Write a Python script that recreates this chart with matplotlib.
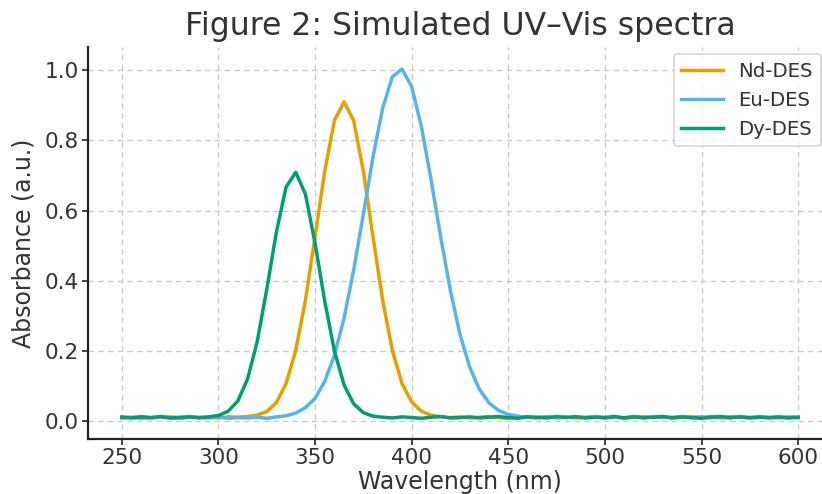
import numpy as np
import matplotlib
matplotlib.use("Agg")
import matplotlib.pyplot as plt

# ---- data (5 nm steps) ----
wavelength = list(range(250, 601, 5))

nd_des = [0.012, 0.010, 0.013, 0.009, 0.011, 0.012, 0.009, 0.012, 0.010, 0.011,
          0.009, 0.012, 0.011, 0.013, 0.017, 0.027, 0.053, 0.107, 0.201, 0.344,
          0.525, 0.712, 0.856, 0.910, 0.856, 0.712, 0.525, 0.344, 0.201, 0.107,
          0.055, 0.028, 0.017, 0.012, 0.010,
          0.012, 0.009, 0.011, 0.013, 0.010, 0.008, 0.012, 0.011, 0.009, 0.013,
          0.010, 0.012, 0.009, 0.011, 0.013, 0.010, 0.012, 0.008, 0.011, 0.012,
          0.010, 0.013, 0.009, 0.011, 0.012, 0.010, 0.013, 0.009, 0.012, 0.011,
          0.010, 0.013, 0.009, 0.012, 0.010, 0.011]

eu_des = [0.009, 0.011, 0.008, 0.010, 0.012, 0.009, 0.008, 0.011, 0.010, 0.009,
          0.012, 0.008, 0.010, 0.009, 0.011, 0.008, 0.012,
          0.015, 0.023, 0.038, 0.065, 0.113, 0.187, 0.293, 0.431, 0.590, 0.753,
          0.892, 0.981, 1.003, 0.953, 0.840, 0.689, 0.525, 0.373, 0.247, 0.154,
          0.091, 0.052, 0.030, 0.019, 0.014, 0.011,
          0.010, 0.012, 0.009, 0.011, 0.013, 0.010, 0.012, 0.009, 0.011, 0.010,
          0.013, 0.009, 0.012, 0.010, 0.011, 0.013, 0.009, 0.012, 0.010, 0.011,
          0.009, 0.013, 0.010, 0.012, 0.011, 0.009, 0.012, 0.010]

dy_des = [0.011, 0.009, 0.012, 0.010, 0.013, 0.009, 0.011, 0.012, 0.010,
          0.012, 0.016, 0.028, 0.057, 0.119, 0.225, 0.375, 0.539, 0.667, 0.709,
          0.647, 0.507, 0.342, 0.200, 0.103, 0.049, 0.024, 0.014, 0.011,
          0.009, 0.012, 0.010, 0.008, 0.011, 0.013, 0.009, 0.010, 0.012, 0.009,
          0.011, 0.013, 0.010, 0.008, 0.012, 0.011, 0.009, 0.013, 0.010, 0.012,
          0.009, 0.011, 0.010, 0.013, 0.009, 0.012, 0.010, 0.011, 0.013, 0.009,
          0.012, 0.010, 0.008, 0.011, 0.013, 0.010, 0.012, 0.009, 0.011, 0.010,
          0.012, 0.009, 0.011]

series_names = ["Nd-DES", "Eu-DES", "Dy-DES"]
series_values = [nd_des, eu_des, dy_des]
series_colors = ["#E69F00", "#56B4E9", "#009E73"]

x_ticks = [250, 300, 350, 400, 450, 500, 550, 600]
y_ticks = [0.0, 0.2, 0.4, 0.6, 0.8, 1.0]

# ---- figure ----
plt.rcParams['font.family'] = ['DejaVu Sans']
text_color = "#333333"

fig = plt.figure(figsize=(8.22, 4.94), dpi=100)
ax = fig.add_axes([88 / 822, (494 - 439) / 494, (832 - 88) / 822, (439 - 47) / 494])

for name, vals, col in zip(series_names, series_values, series_colors):
    ax.plot(wavelength, vals, color=col, lw=2.5, label=name)

ax.set_xlim(232.5, 617.5)
ax.set_ylim(-0.051, 1.066)
ax.set_xticks(x_ticks)
ax.set_yticks(y_ticks)
ax.set_yticklabels([f"{v:.1f}" for v in y_ticks])

ax.grid(True, linestyle=(0, (4, 3)), color="#cccccc", lw=1.0)
ax.set_axisbelow(True)

for s in ["top", "right"]:
    ax.spines[s].set_visible(False)
for s in ["left", "bottom"]:
    ax.spines[s].set_linewidth(1.6)
    ax.spines[s].set_color("#222222")

ax.tick_params(axis="both", labelsize=15.6, colors="#222222", labelcolor=text_color,
               length=4, width=1.2, pad=2.5)

ax.set_xlabel("Wavelength (nm)", fontsize=17, color=text_color, labelpad=1.5)
ax.set_ylabel("Absorbance (a.u.)", fontsize=17, color=text_color, labelpad=7)
ax.set_title("Figure 2: Simulated UV\u2013Vis spectra", fontsize=22.7, color=text_color, pad=9)

leg = ax.legend(loc="upper right", bbox_to_anchor=(821 / 822, 1 - 54 / 494),
                bbox_transform=fig.transFigure, borderaxespad=0, fontsize=14.2,
                frameon=True, fancybox=True, handlelength=2.1)
leg.get_frame().set_edgecolor("#cccccc")
leg.get_frame().set_linewidth(1.2)
for t in leg.get_texts():
    t.set_color(text_color)

fig.savefig("out.png", dpi=100)
